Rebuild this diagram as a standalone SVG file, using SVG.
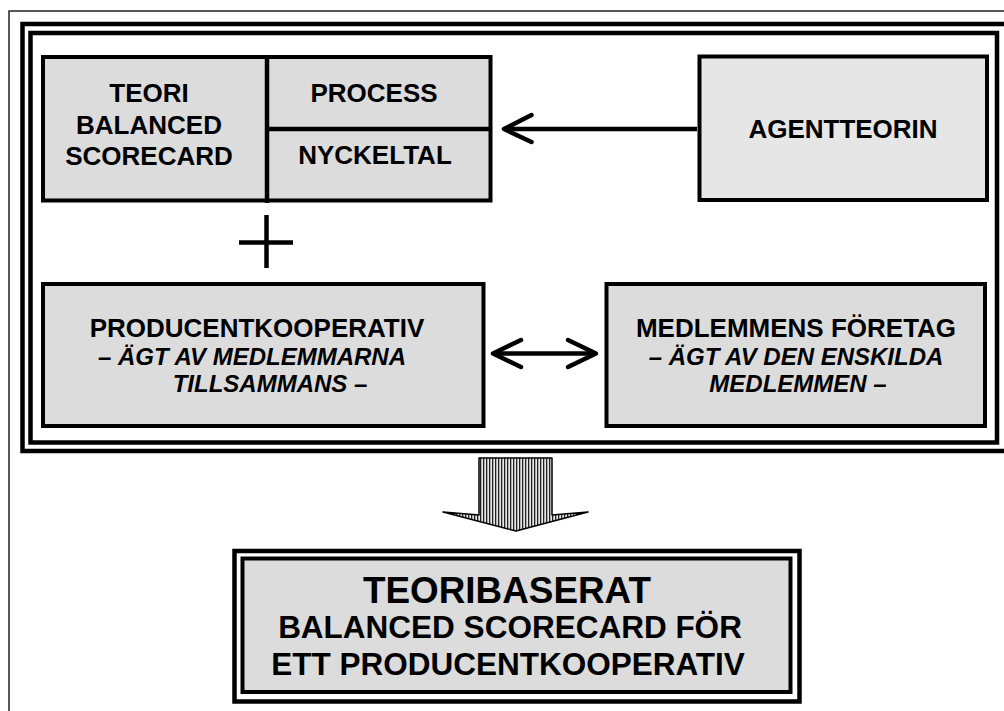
<svg xmlns="http://www.w3.org/2000/svg" width="1004" height="711" viewBox="0 0 1004 711">
<style>
.t{font-family:"Liberation Sans",Arial,sans-serif;font-weight:bold;fill:#000;text-anchor:middle}
.h{font-size:26px}
.i{font-style:italic;font-size:24px}
.box{fill:#dcdcdc;stroke:#000;stroke-width:4}
.frame{fill:none;stroke:#000;stroke-width:4.5}
.arr{fill:none;stroke:#000;stroke-width:4.5;stroke-linecap:round;stroke-linejoin:round}
</style>
<defs>
<pattern id="hatch" width="3" height="10" patternUnits="userSpaceOnUse">
<rect width="3" height="10" fill="#e8e8e8"/>
<rect width="1.3" height="10" fill="#222"/>
</pattern>
</defs>
<rect width="1004" height="711" fill="#fff"/>
<g id="frames">
<rect x="9" y="11" width="1020" height="730" fill="none" stroke="#222" stroke-width="1.5"/>
<rect class="frame" x="22.5" y="24" width="1000" height="427"/>
<rect class="frame" x="30.5" y="33" width="966.5" height="409.5"/>
</g>
<g id="node-teori">
<rect class="box" x="43" y="57" width="447.5" height="143.5" stroke-width="4.5"/>
<line x1="267" y1="57" x2="267" y2="203" stroke="#000" stroke-width="4.5"/>
<line x1="267" y1="129" x2="490.5" y2="129" stroke="#000" stroke-width="4.5"/>
<text class="t h" x="149" y="102">TEORI</text>
<text class="t h" x="149" y="133.5">BALANCED</text>
<text class="t h" x="149" y="165">SCORECARD</text>
</g>
<g id="node-process">
<text class="t h" x="374" y="102">PROCESS</text>
</g>
<g id="node-nyckeltal">
<text class="t h" x="375" y="164">NYCKELTAL</text>
</g>
<g id="node-agent">
<rect x="699.5" y="56.5" width="287.5" height="143.5" fill="#e6e6e6" stroke="#000" stroke-width="4"/>
<text class="t h" x="843" y="138">AGENTTEORIN</text>
</g>
<g id="node-producent">
<rect class="box" x="43" y="284" width="440.5" height="142" stroke-width="3.5"/>
<text class="t h" x="257" y="337">PRODUCENTKOOPERATIV</text>
<text class="t i" x="252" y="365">– ÄGT AV MEDLEMMARNA</text>
<text class="t i" x="270" y="392">TILLSAMMANS –</text>
</g>
<g id="node-medlem">
<rect class="box" x="606.5" y="284" width="378.5" height="142" stroke-width="3.5"/>
<text class="t h" x="796" y="337">MEDLEMMENS FÖRETAG</text>
<text class="t i" x="796" y="365">– ÄGT AV DEN ENSKILDA</text>
<text class="t i" x="798" y="392">MEDLEMMEN –</text>
</g>
<g id="plus">
<line x1="266.5" y1="215" x2="266.5" y2="268" stroke="#000" stroke-width="4.5"/>
<line x1="239" y1="242.5" x2="293" y2="242.5" stroke="#000" stroke-width="4.5"/>
</g>
<g id="connectors">
<line x1="505" y1="129" x2="697" y2="129" stroke="#000" stroke-width="4.5"/>
<polyline class="arr" points="531.5,115 504,129 531.5,142"/>
<line x1="494" y1="353.5" x2="595" y2="353.5" stroke="#000" stroke-width="4.5"/>
<polyline class="arr" points="521,340 493,353.5 521,367"/>
<polyline class="arr" points="568,340 596,353.5 568,367"/>
<polygon points="479,458 552,458 552,515 588,512 516,531 443,512 479,515" fill="url(#hatch)" stroke="#000" stroke-width="1.5" stroke-linejoin="round"/>
</g>
<g id="node-result">
<rect x="234.5" y="551" width="565" height="150.5" fill="#fff" stroke="#000" stroke-width="4.5"/>
<rect x="242.5" y="558.5" width="548" height="133.5" fill="#dcdcdc" stroke="#000" stroke-width="4"/>
<text class="t" font-size="36" x="507" y="603" textLength="288" lengthAdjust="spacingAndGlyphs">TEORIBASERAT</text>
<text class="t" font-size="31.5" x="510" y="638">BALANCED SCORECARD FÖR</text>
<text class="t" font-size="31.5" x="508" y="675">ETT PRODUCENTKOOPERATIV</text>
</g>
</svg>
